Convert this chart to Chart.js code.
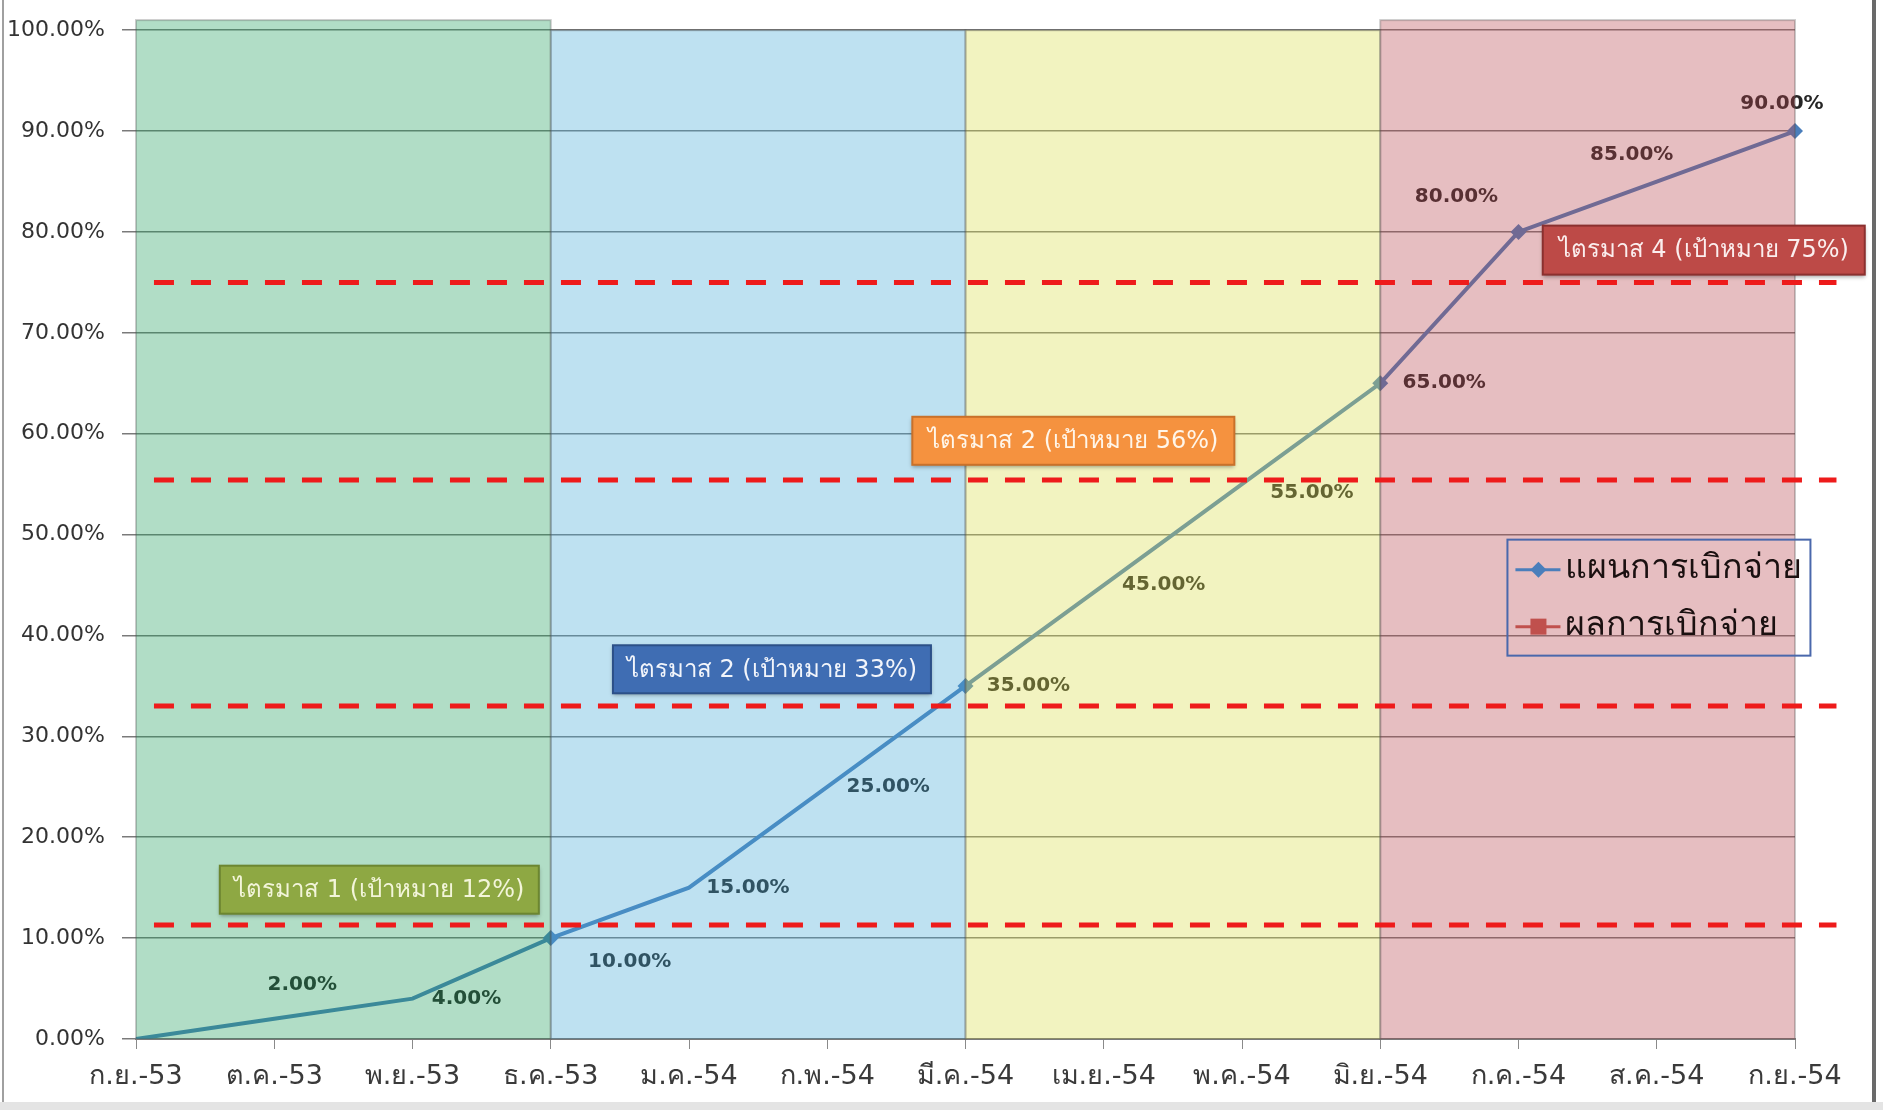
<!DOCTYPE html>
<html lang="th">
<head>
<meta charset="utf-8">
<title>แผนการเบิกจ่าย</title>
<script src="https://cdn.jsdelivr.net/npm/chart.js@4.4.1/dist/chart.umd.min.js"></script>
<style>
  html, body { margin: 0; padding: 0; background: #fff; }
  #wrap { width: 1883px; height: 1110px; }
</style>
</head>
<body>
<div id="wrap"><canvas id="chart" width="1883" height="1110"></canvas></div>
<script>
// data
const months = ["ก.ย.-53", "ต.ค.-53", "พ.ย.-53", "ธ.ค.-53", "ม.ค.-54", "ก.พ.-54", "มี.ค.-54",
  "เม.ย.-54", "พ.ค.-54", "มิ.ย.-54", "ก.ค.-54", "ส.ค.-54", "ก.ย.-54"];
const planValues = [0, 2, 4, 10, 15, 25, 35, 45, 55, 65, 80, 85, 90];
const resultValues = []; // nothing reported yet
const seriesNames = ["แผนการเบิกจ่าย", "ผลการเบิกจ่าย"];
const yTicks = [0, 10, 20, 30, 40, 50, 60, 70, 80, 90, 100];
const targetLines = [11.3, 33, 55.4, 75];
const quarterBands = [[0, 3], [3, 6], [6, 9], [9, 12]];
const quarterLabels = ["ไตรมาส 1 (เป้าหมาย 12%)", "ไตรมาส 2 (เป้าหมาย 33%)",
  "ไตรมาส 2 (เป้าหมาย 56%)", "ไตรมาส 4 (เป้าหมาย 75%)"];

// styles
const FONT = "Tahoma, 'DejaVu Sans', 'Noto Sans', sans-serif";
const bandColors = ["rgba(32,158,92,0.35)", "rgba(69,169,215,0.35)", "rgba(218,221,75,0.35)", "rgba(184,69,78,0.35)"];
const bandTops = [101, 100, 100, 101];
const markerSizes = [0, 0, 0, 8, 0, 0, 8, 0, 0, 8, 8, 0, 8];
const labelOffsets = [null, [28, -34], [54, 0], [79, 24], [59, 0], [61, 0], [63, 0],
  [60, 0], [70, 9], [64, 0], [-62, -35], [-25, -27], [-13, -27]];
const boxStyles = [
  { x: 1.76, y: 14.8, w: 319, h: 48, fill: "#8ea843", stroke: "#6c8630", text: "#f3f5da" },
  { x: 4.60, y: 36.65, w: 318, h: 48, fill: "#3f6db3", stroke: "#2c5088", text: "#f2f5fb" },
  { x: 6.78, y: 59.3, w: 322, h: 48, fill: "#f5923f", stroke: "#c9712a", text: "#fff6ea" },
  { x: 11.34, y: 78.2, w: 322, h: 49, fill: "#bd4a47", stroke: "#8b302f", text: "#fbeeee" },
];

function pct(v) {
  return v.toFixed(2) + "%";
}

const overlayPlugin = {
  id: "overlay",
  beforeDraw(chart) {
    const { ctx, width, height } = chart;
    ctx.save();
    ctx.fillStyle = "#ffffff";
    ctx.fillRect(0, 0, width, height);
    ctx.fillStyle = "#a0a0a0";
    ctx.fillRect(2, 0, 2, height);
    ctx.fillStyle = "#6a6a6a";
    ctx.fillRect(width - 11, 0, 4, height);
    ctx.fillStyle = "#e4e4e4";
    ctx.fillRect(0, height - 8, width, 8);
    ctx.restore();
  },
  afterDatasetsDraw(chart) {
    const { ctx, scales: { x, y } } = chart;
    const meta = chart.getDatasetMeta(0);

    // value labels (under the coloured bands like in the original)
    ctx.save();
    ctx.font = "bold 20px " + FONT;
    ctx.fillStyle = "#262626";
    ctx.textAlign = "center";
    ctx.textBaseline = "middle";
    meta.data.forEach((pt, i) => {
      const off = labelOffsets[i];
      if (!off) return;
      ctx.fillText(pct(planValues[i]), pt.x + off[0], pt.y + off[1]);
    });
    ctx.restore();

    // quarter bands
    ctx.save();
    quarterBands.forEach(([a, b], i) => {
      const x0 = x.getPixelForValue(a);
      const x1 = x.getPixelForValue(b);
      const top = y.getPixelForValue(bandTops[i]);
      ctx.fillStyle = bandColors[i];
      ctx.fillRect(x0, top, x1 - x0, y.bottom - top);
      ctx.strokeStyle = "rgba(80,80,80,0.3)";
      ctx.lineWidth = 2;
      ctx.strokeRect(x0, top, x1 - x0, y.bottom - top);
    });
    ctx.restore();

    // target dashed lines
    ctx.save();
    ctx.strokeStyle = "#ee1b1b";
    ctx.lineWidth = 5;
    ctx.setLineDash([20, 17]);
    targetLines.forEach(v => {
      const py = y.getPixelForValue(v);
      ctx.beginPath();
      ctx.moveTo(x.getPixelForValue(0.13), py);
      ctx.lineTo(x.getPixelForValue(12.3), py);
      ctx.stroke();
    });
    ctx.restore();

    // quarter text boxes
    ctx.save();
    ctx.font = "24px " + FONT;
    ctx.textAlign = "center";
    ctx.textBaseline = "middle";
    boxStyles.forEach((b, i) => {
      const cx = x.getPixelForValue(b.x);
      const cy = y.getPixelForValue(b.y);
      ctx.shadowColor = "rgba(0,0,0,0.35)";
      ctx.shadowBlur = 4;
      ctx.shadowOffsetY = 2;
      ctx.fillStyle = b.fill;
      ctx.fillRect(cx - b.w / 2, cy - b.h / 2, b.w, b.h);
      ctx.shadowColor = "transparent";
      ctx.strokeStyle = b.stroke;
      ctx.lineWidth = 2;
      ctx.strokeRect(cx - b.w / 2, cy - b.h / 2, b.w, b.h);
      ctx.fillStyle = b.text;
      ctx.fillText(quarterLabels[i], cx, cy + 1);
    });
    ctx.restore();

    // legend
    const lx = x.getPixelForValue(9.92);
    const ly = y.getPixelForValue(49.5);
    const lw = 303, lh = 116;
    ctx.save();
    ctx.strokeStyle = "#4a68ac";
    ctx.lineWidth = 2;
    ctx.strokeRect(lx, ly, lw, lh);
    ctx.font = "34px " + FONT;
    ctx.textBaseline = "middle";
    chart.data.datasets.forEach((ds, i) => {
      const ry = ly + 30 + i * 57;
      ctx.strokeStyle = ds.borderColor;
      ctx.lineWidth = 3;
      ctx.beginPath();
      ctx.moveTo(lx + 8, ry);
      ctx.lineTo(lx + 53, ry);
      ctx.stroke();
      ctx.fillStyle = ds.backgroundColor;
      if (ds.pointStyle === "rectRot") {
        ctx.beginPath();
        ctx.moveTo(lx + 31, ry - 8);
        ctx.lineTo(lx + 39, ry);
        ctx.lineTo(lx + 31, ry + 8);
        ctx.lineTo(lx + 23, ry);
        ctx.closePath();
        ctx.fill();
      } else {
        ctx.fillRect(lx + 23, ry - 8, 16, 16);
      }
      ctx.fillStyle = "#1a1010";
      ctx.fillText(ds.label, lx + 58, ry);
    });
    ctx.restore();
  },
};

new Chart(document.getElementById("chart"), {
  type: "line",
  data: {
    labels: months,
    datasets: [
      {
        label: seriesNames[0],
        data: planValues,
        borderColor: "#4a7ebb",
        backgroundColor: "#4a7ebb",
        borderWidth: 4,
        pointStyle: "rectRot",
        pointRadius: markerSizes,
        pointBorderWidth: 0,
        tension: 0,
      },
      {
        label: seriesNames[1],
        data: resultValues,
        borderColor: "#c0504d",
        backgroundColor: "#c0504d",
        borderWidth: 4,
        pointStyle: "rect",
        pointRadius: 7,
      },
    ],
  },
  options: {
    responsive: false,
    animation: false,
    devicePixelRatio: 1,
    layout: {
      padding: { top: 27, right: 88, bottom: 0, left: 4 },
    },
    plugins: {
      legend: { display: false },
      tooltip: { enabled: false },
    },
    scales: {
      x: {
        offset: false,
        afterFit(scale) {
          scale.height = 71;
        },
        grid: {
          drawOnChartArea: false,
          drawTicks: true,
          tickLength: 10,
          color: "#8a8a8a",
        },
        border: { color: "#8a8a8a", width: 2 },
        ticks: {
          color: "#3a3a3a",
          font: { family: FONT, size: 27 },
          padding: 12,
          maxRotation: 0,
          autoSkip: false,
        },
      },
      y: {
        min: 0,
        max: 100,
        afterFit(scale) {
          scale.width = 132;
        },
        afterBuildTicks(scale) {
          scale.ticks = yTicks.map(v => ({ value: v }));
        },
        grid: {
          color: "#7a7a7a",
          lineWidth: 1.5,
          tickLength: 14,
        },
        border: { display: false },
        ticks: {
          color: "#333333",
          font: { family: FONT, size: 22 },
          padding: 17,
          callback: v => pct(v),
        },
      },
    },
  },
  plugins: [overlayPlugin],
});
</script>
</body>
</html>
